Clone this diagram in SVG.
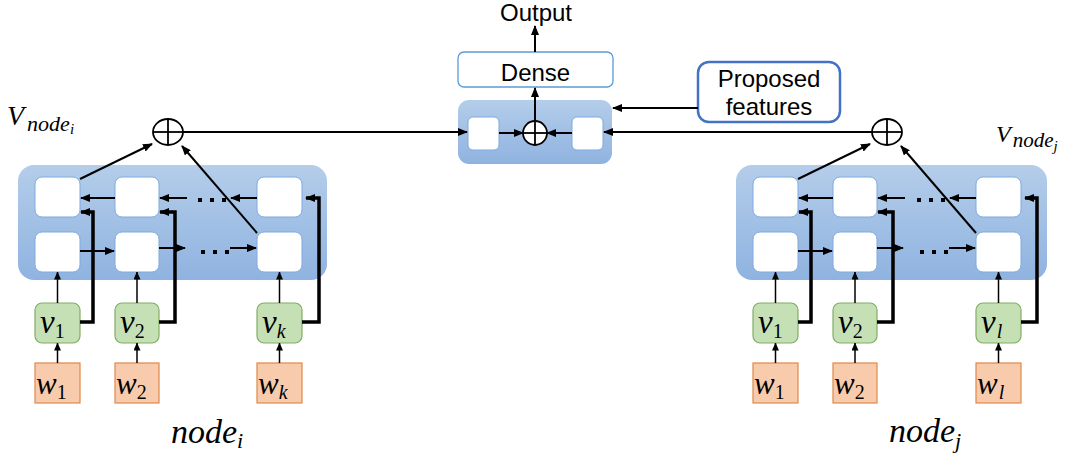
<svg xmlns="http://www.w3.org/2000/svg" width="1075" height="457" viewBox="0 0 1075 457">
<defs>
<linearGradient id="panelGrad" x1="0" y1="0" x2="0" y2="1">
<stop offset="0" stop-color="#b4cdea"/>
<stop offset="1" stop-color="#8fb3e0"/>
</linearGradient>
<marker id="ah" markerUnits="userSpaceOnUse" markerWidth="10" markerHeight="8" refX="9" refY="4" orient="auto">
<path d="M0,0 L10,4 L0,8 z" fill="#000"/>
</marker>
<marker id="ahs" markerUnits="userSpaceOnUse" markerWidth="8" markerHeight="7" refX="7.5" refY="3.5" orient="auto">
<path d="M0,0 L8,3.5 L0,7 z" fill="#000"/>
</marker>
</defs>
<style>
.panel{fill:url(#panelGrad);stroke:none}
.cell{fill:#fff;stroke:#7eaadf;stroke-width:1}
.vbox{fill:#c5e0b4;stroke:#82ad63;stroke-width:1.2}
.wbox{fill:#f8cbad;stroke:#e0874a;stroke-width:1.2}
.op{fill:#fff;stroke:#000;stroke-width:1.8}
.opx{stroke:#000;stroke-width:1.8}
.a{fill:none;stroke:#000;stroke-width:2;marker-end:url(#ah)}
.as{fill:none;stroke:#000;stroke-width:1.5;marker-end:url(#ahs)}
.thick{fill:none;stroke:#000;stroke-width:3.5;marker-end:url(#ah)}
.dot{fill:#000}
.sans{font-family:"Liberation Sans",Arial,sans-serif;fill:#000}
.math{font-family:"Liberation Serif","Times New Roman",serif;font-style:italic;fill:#000}
.up{font-style:normal}
</style>

<!-- Left node panel -->
<g id="node-i-panel">
<rect class="panel" x="18" y="165" width="309" height="115" rx="16"/>
<rect class="cell" x="35" y="177" width="45" height="40" rx="7"/>
<rect class="cell" x="115" y="177" width="44" height="40" rx="7"/>
<rect class="cell" x="257" y="177" width="45" height="40" rx="7"/>
<rect class="cell" x="35" y="232" width="45" height="40" rx="7"/>
<rect class="cell" x="115" y="232" width="44" height="40" rx="7"/>
<rect class="cell" x="257" y="232" width="45" height="40" rx="7"/>
</g>
<g id="node-i-v1"><rect class="vbox" x="35" y="303" width="45" height="40" rx="7"/><text class="math" x="40" y="333" font-size="33">v<tspan class="up" font-size="20" dy="5">1</tspan></text></g>
<g id="node-i-v2"><rect class="vbox" x="115" y="303" width="44" height="40" rx="7"/><text class="math" x="120" y="333" font-size="33">v<tspan class="up" font-size="20" dy="5">2</tspan></text></g>
<g id="node-i-vk"><rect class="vbox" x="257" y="303" width="45" height="40" rx="7"/><text class="math" x="262" y="333" font-size="33">v<tspan font-size="20" dy="5">k</tspan></text></g>
<g id="node-i-w1"><rect class="wbox" x="35" y="363" width="45" height="40"/><text class="math" x="36" y="394" font-size="31">w<tspan class="up" font-size="20" dy="5">1</tspan></text></g>
<g id="node-i-w2"><rect class="wbox" x="115" y="363" width="44" height="40"/><text class="math" x="116" y="394" font-size="31">w<tspan class="up" font-size="20" dy="5">2</tspan></text></g>
<g id="node-i-wk"><rect class="wbox" x="257" y="363" width="45" height="40"/><text class="math" x="258" y="394" font-size="31">w<tspan font-size="20" dy="5">k</tspan></text></g>
<g id="node-i-sum"><ellipse class="op" cx="168" cy="132" rx="15" ry="13"/><line class="opx" x1="153" y1="132" x2="183" y2="132"/><line class="opx" x1="168" y1="119" x2="168" y2="145"/></g>
<g id="label-vnode-i"><text class="math" x="7" y="125" font-size="28">V<tspan font-size="22" dx="3" dy="6">node</tspan><tspan font-size="15" dy="3">i</tspan></text></g>
<g id="label-node-i"><text class="math" x="171" y="443" font-size="34">node<tspan font-size="22" dy="5">i</tspan></text></g>

<!-- Right node panel -->
<g id="node-j-panel" transform="translate(718,0)">
<rect class="panel" x="18" y="165" width="311" height="115" rx="16"/>
<rect class="cell" x="35" y="177" width="45" height="40" rx="7"/>
<rect class="cell" x="115" y="177" width="44" height="40" rx="7"/>
<rect class="cell" x="258" y="177" width="45" height="40" rx="7"/>
<rect class="cell" x="35" y="232" width="45" height="40" rx="7"/>
<rect class="cell" x="115" y="232" width="44" height="40" rx="7"/>
<rect class="cell" x="258" y="232" width="45" height="40" rx="7"/>
</g>
<g id="node-j-v1"><rect class="vbox" x="753" y="303" width="45" height="40" rx="7"/><text class="math" x="758" y="333" font-size="33">v<tspan class="up" font-size="20" dy="5">1</tspan></text></g>
<g id="node-j-v2"><rect class="vbox" x="833" y="303" width="44" height="40" rx="7"/><text class="math" x="838" y="333" font-size="33">v<tspan class="up" font-size="20" dy="5">2</tspan></text></g>
<g id="node-j-vl"><rect class="vbox" x="976" y="303" width="45" height="40" rx="7"/><text class="math" x="981" y="333" font-size="33">v<tspan font-size="20" dx="1" dy="5">l</tspan></text></g>
<g id="node-j-w1"><rect class="wbox" x="753" y="363" width="45" height="40"/><text class="math" x="754" y="394" font-size="31">w<tspan class="up" font-size="20" dy="5">1</tspan></text></g>
<g id="node-j-w2"><rect class="wbox" x="833" y="363" width="44" height="40"/><text class="math" x="834" y="394" font-size="31">w<tspan class="up" font-size="20" dy="5">2</tspan></text></g>
<g id="node-j-wl"><rect class="wbox" x="976" y="363" width="45" height="40"/><text class="math" x="977" y="394" font-size="31">w<tspan font-size="20" dx="1" dy="5">l</tspan></text></g>
<g id="node-j-sum"><ellipse class="op" cx="887" cy="132" rx="15" ry="13"/><line class="opx" x1="872" y1="132" x2="902" y2="132"/><line class="opx" x1="887" y1="119" x2="887" y2="145"/></g>
<g id="label-vnode-j"><text class="math" x="996" y="142" font-size="24">V<tspan font-size="21" dx="2" dy="5">node</tspan><tspan font-size="15" dy="4">j</tspan></text></g>
<g id="label-node-j"><text class="math" x="889" y="442" font-size="34">node<tspan font-size="22" dy="6">j</tspan></text></g>

<!-- Center -->
<g id="merge-panel">
<rect class="panel" x="458" y="100" width="154" height="64" rx="11"/>
<rect class="cell" x="468" y="117" width="31" height="33" rx="5"/>
<rect class="cell" x="572" y="117" width="31" height="33" rx="5"/>
</g>
<g id="merge-sum"><circle class="op" cx="535" cy="133" r="12"/><line class="opx" x1="523" y1="133" x2="547" y2="133"/><line class="opx" x1="535" y1="121" x2="535" y2="145"/></g>
<g id="dense"><rect x="458" y="52" width="155" height="35" rx="6" fill="#fff" stroke="#5b9bd5" stroke-width="1.3"/><text class="sans" x="535.5" y="81" font-size="24" text-anchor="middle">Dense</text></g>
<g id="output"><text class="sans" x="536" y="21" font-size="24" text-anchor="middle">Output</text></g>
<g id="proposed"><rect x="698" y="62" width="142" height="60" rx="11" fill="#fff" stroke="#4472c4" stroke-width="2.5"/><text class="sans" x="769" y="87" font-size="24" text-anchor="middle">Proposed</text><text class="sans" x="769" y="115" font-size="24" text-anchor="middle">features</text></g>

<g id="connectors">
<!-- left -->
<line class="a" x1="183" y1="132" x2="467" y2="132"/>
<line class="a" x1="80" y1="179" x2="152" y2="144"/>
<line class="a" x1="257" y1="233" x2="182" y2="146"/>
<line class="a" x1="115" y1="198" x2="81" y2="198"/>
<line class="a" x1="187" y1="198" x2="160" y2="198"/>
<line class="a" x1="257" y1="198" x2="231" y2="198"/>
<line class="a" x1="80" y1="251" x2="114" y2="251"/>
<line class="a" x1="159" y1="248" x2="185" y2="248"/>
<line class="a" x1="230" y1="248" x2="256" y2="248"/>
<polyline class="thick" points="80,322 93,322 93,212 81,212"/>
<polyline class="thick" points="159,322 175,322 175,212 160,212"/>
<polyline class="thick" points="302,322 319,322 319,198 306,198"/>
<line class="as" x1="57.5" y1="303" x2="57.5" y2="272"/>
<line class="as" x1="137" y1="303" x2="137" y2="272"/>
<line class="as" x1="279.5" y1="303" x2="279.5" y2="272"/>
<line class="as" x1="57.5" y1="363" x2="57.5" y2="343"/>
<line class="as" x1="137" y1="363" x2="137" y2="343"/>
<line class="as" x1="279.5" y1="363" x2="279.5" y2="343"/>
<rect class="dot" x="198" y="198" width="4" height="4"/><rect class="dot" x="210" y="198" width="4" height="4"/><rect class="dot" x="222" y="198" width="4" height="4"/>
<rect class="dot" x="201" y="250" width="4" height="4"/><rect class="dot" x="213" y="250" width="4" height="4"/><rect class="dot" x="225" y="250" width="4" height="4"/>
<!-- right -->
<line class="a" x1="872" y1="132" x2="604" y2="132"/>
<line class="a" x1="798" y1="179" x2="870" y2="144"/>
<line class="a" x1="976" y1="233" x2="901" y2="146"/>
<line class="a" x1="833" y1="198" x2="799" y2="198"/>
<line class="a" x1="905" y1="198" x2="878" y2="198"/>
<line class="a" x1="976" y1="198" x2="950" y2="198"/>
<line class="a" x1="798" y1="251" x2="832" y2="251"/>
<line class="a" x1="877" y1="248" x2="903" y2="248"/>
<line class="a" x1="949" y1="248" x2="975" y2="248"/>
<polyline class="thick" points="798,322 811,322 811,212 799,212"/>
<polyline class="thick" points="877,322 893,322 893,212 878,212"/>
<polyline class="thick" points="1021,322 1037,322 1037,198 1025,198"/>
<line class="as" x1="775.5" y1="303" x2="775.5" y2="272"/>
<line class="as" x1="855" y1="303" x2="855" y2="272"/>
<line class="as" x1="998.5" y1="303" x2="998.5" y2="272"/>
<line class="as" x1="775.5" y1="363" x2="775.5" y2="343"/>
<line class="as" x1="855" y1="363" x2="855" y2="343"/>
<line class="as" x1="998.5" y1="363" x2="998.5" y2="343"/>
<rect class="dot" x="917" y="198" width="4" height="4"/><rect class="dot" x="929" y="198" width="4" height="4"/><rect class="dot" x="941" y="198" width="4" height="4"/>
<rect class="dot" x="920" y="250" width="4" height="4"/><rect class="dot" x="932" y="250" width="4" height="4"/><rect class="dot" x="944" y="250" width="4" height="4"/>
<!-- center -->
<line class="a" x1="499" y1="133" x2="523" y2="133"/>
<line class="a" x1="572" y1="133" x2="547" y2="133"/>
<line class="a" x1="535" y1="121" x2="535" y2="88"/>
<line class="a" x1="535" y1="52" x2="535" y2="26"/>
<line class="a" x1="698" y1="108" x2="613" y2="108"/>
</g>
</svg>
